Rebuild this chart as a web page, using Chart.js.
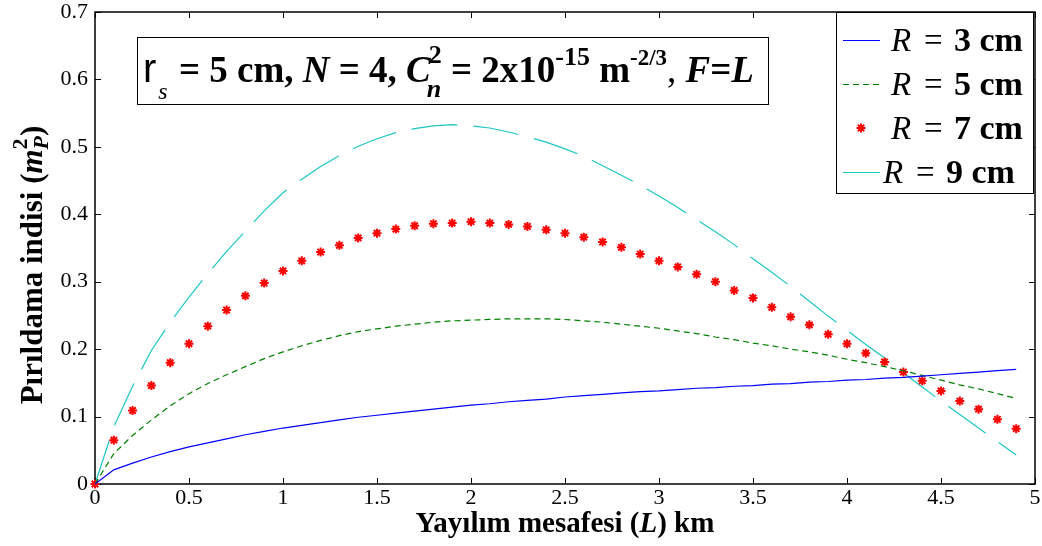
<!DOCTYPE html>
<html>
<head>
<meta charset="utf-8">
<script src="https://cdn.jsdelivr.net/npm/chart.js@4.4.1/dist/chart.umd.min.js"></script>
<style>
  html, body { margin: 0; padding: 0; background: #fff; }
  canvas { display: block; }
</style>
</head>
<body>
<canvas id="pirildama" width="1042" height="546"></canvas>
<script>
// Yayılım mesafesi (km)
const distanceKm = [
  0, 0.1, 0.2, 0.3, 0.4, 0.5, 0.6, 0.7, 0.8, 0.9,
  1.0, 1.1, 1.2, 1.3, 1.4, 1.5, 1.6, 1.7, 1.8, 1.9,
  2.0, 2.1, 2.2, 2.3, 2.4, 2.5, 2.6, 2.7, 2.8, 2.9,
  3.0, 3.1, 3.2, 3.3, 3.4, 3.5, 3.6, 3.7, 3.8, 3.9,
  4.0, 4.1, 4.2, 4.3, 4.4, 4.5, 4.6, 4.7, 4.8, 4.9
];

// Pırıldama indisi, R = 3 / 5 / 7 / 9 cm
const indexR3 = [
  0, 0.021, 0.031, 0.040, 0.048, 0.055, 0.061, 0.067, 0.073, 0.078,
  0.083, 0.087, 0.091, 0.095, 0.099, 0.102, 0.105, 0.108, 0.111, 0.114,
  0.117, 0.119, 0.122, 0.124, 0.126, 0.129, 0.131, 0.133, 0.135, 0.137,
  0.138, 0.140, 0.142, 0.143, 0.145, 0.146, 0.148, 0.149, 0.151, 0.152,
  0.154, 0.155, 0.157, 0.158, 0.160, 0.162, 0.164, 0.166, 0.168, 0.170
];
const indexR5 = [
  0, 0.045, 0.072, 0.095, 0.116, 0.134, 0.149, 0.162, 0.174, 0.186,
  0.196, 0.205, 0.213, 0.220, 0.226, 0.230, 0.234, 0.237, 0.240, 0.242,
  0.243, 0.244, 0.245, 0.245, 0.245, 0.244, 0.242, 0.240, 0.237, 0.234,
  0.231, 0.227, 0.223, 0.218, 0.214, 0.209, 0.205, 0.200, 0.196, 0.191,
  0.185, 0.180, 0.174, 0.168, 0.161, 0.154, 0.147, 0.141, 0.134, 0.127
];
const indexR7 = [
  0, 0.065, 0.109, 0.146, 0.180, 0.208, 0.234, 0.258, 0.279, 0.298,
  0.316, 0.331, 0.344, 0.354, 0.365, 0.372, 0.378, 0.383, 0.386, 0.387,
  0.389, 0.387, 0.385, 0.382, 0.377, 0.372, 0.366, 0.359, 0.351, 0.341,
  0.331, 0.322, 0.311, 0.300, 0.287, 0.276, 0.262, 0.248, 0.236, 0.222,
  0.208, 0.194, 0.181, 0.166, 0.153, 0.138, 0.123, 0.111, 0.096, 0.082
];
const indexR9 = [
  0, 0.085, 0.145, 0.198, 0.240, 0.277, 0.312, 0.345, 0.375, 0.405,
  0.432, 0.452, 0.471, 0.487, 0.501, 0.512, 0.521, 0.527, 0.531, 0.533,
  0.531, 0.528, 0.522, 0.515, 0.507, 0.497, 0.486, 0.472, 0.458, 0.443,
  0.427, 0.410, 0.392, 0.374, 0.355, 0.334, 0.314, 0.293, 0.271, 0.249,
  0.228, 0.207, 0.187, 0.165, 0.144, 0.123, 0.103, 0.083, 0.063, 0.043
];

const radiusCm = ['3', '5', '7', '9'];

const xTickValues = [0, 0.5, 1, 1.5, 2, 2.5, 3, 3.5, 4, 4.5, 5];
const xTickLabels = ['0', '0.5', '1', '1.5', '2', '2.5', '3', '3.5', '4', '4.5', '5'];
const yTickValues = [0, 0.1, 0.2, 0.3, 0.4, 0.5, 0.6, 0.7];
const yTickLabels = ['0', '0.1', '0.2', '0.3', '0.4', '0.5', '0.6', '0.7'];

const SERIF = "'Liberation Serif', 'Times New Roman', serif";

function points(ys) {
  return distanceKm.map((x, i) => ({ x: x, y: ys[i] }));
}

// yazı parçalarını (normal / üst / alt simge) sırayla çizer
function drawRuns(ctx, runs, x, y, measureOnly) {
  let cx = x;
  runs.forEach(r => {
    if (r.stack) {
      let w = 0;
      r.stack.forEach(s => {
        ctx.font = s.font;
        if (!measureOnly) ctx.fillText(s.t, cx + (s.dx || 0), y + (s.dy || 0));
        w = Math.max(w, ctx.measureText(s.t).width + (s.dx || 0));
      });
      cx += w + (r.gap || 0);
    } else {
      ctx.font = r.font;
      if (!measureOnly) ctx.fillText(r.t, cx + (r.dx || 0), y + (r.dy || 0));
      cx += ctx.measureText(r.t).width + (r.dx || 0) + (r.gap || 0);
    }
  });
  return cx - x;
}

const B = size => 'bold ' + size + 'px ' + SERIF;
const BI = size => 'italic bold ' + size + 'px ' + SERIF;
const I = size => 'italic ' + size + 'px ' + SERIF;
const N = size => size + 'px ' + SERIF;

const frameAndText = {
  id: 'frameAndText',
  beforeDatasetsDraw(chart) {
    const { ctx, chartArea: a, scales } = chart;
    ctx.save();
    ctx.strokeStyle = '#000';
    ctx.lineWidth = 1.5;
    ctx.strokeRect(a.left, a.top, a.right - a.left, a.bottom - a.top);
    ctx.lineWidth = 1;
    const tl = 6;
    ctx.beginPath();
    xTickValues.forEach(v => {
      const px = Math.round(scales.x.getPixelForValue(v)) + 0.5;
      ctx.moveTo(px, a.bottom); ctx.lineTo(px, a.bottom - tl);
      ctx.moveTo(px, a.top); ctx.lineTo(px, a.top + tl);
    });
    yTickValues.forEach(v => {
      const py = Math.round(scales.y.getPixelForValue(v)) + 0.5;
      ctx.moveTo(a.left, py); ctx.lineTo(a.left + tl, py);
      ctx.moveTo(a.right, py); ctx.lineTo(a.right - tl, py);
    });
    ctx.stroke();

    // tik etiketleri
    ctx.fillStyle = '#000';
    ctx.font = N(22);
    ctx.textAlign = 'center';
    ctx.textBaseline = 'top';
    xTickValues.forEach((v, i) => {
      ctx.fillText(xTickLabels[i], scales.x.getPixelForValue(v), a.bottom + 3);
    });
    ctx.textAlign = 'right';
    ctx.textBaseline = 'middle';
    yTickValues.forEach((v, i) => {
      ctx.fillText(yTickLabels[i], a.left - 7, scales.y.getPixelForValue(v));
    });
    ctx.restore();
  },
  afterDraw(chart) {
    const { ctx, chartArea: a } = chart;
    ctx.save();
    ctx.fillStyle = '#000';
    ctx.textBaseline = 'alphabetic';
    ctx.textAlign = 'left';

    // eksen başlıkları
    const xTitle = [
      { t: 'Yayılım mesafesi (', font: B(29) },
      { t: 'L', font: BI(29) },
      { t: ') km', font: B(29) }
    ];
    const xw = drawRuns(ctx, xTitle, 0, 0, true);
    drawRuns(ctx, xTitle, (a.left + a.right) / 2 - xw / 2, 532);

    const yTitle = [
      { t: 'Pırıldama indisi (', font: B(31) },
      { t: 'm', font: BI(31) },
      { stack: [
        { t: '2', font: B(22), dy: -15 },
        { t: 'P', font: BI(22), dy: 6 }
      ] },
      { t: ')', font: B(31) }
    ];
    const yw = drawRuns(ctx, yTitle, 0, 0, true);
    ctx.save();
    ctx.translate(31, 265);
    ctx.rotate(-Math.PI / 2);
    drawRuns(ctx, yTitle, -yw / 2, 11);
    ctx.restore();

    // parametre kutusu
    ctx.fillStyle = '#fff';
    ctx.fillRect(137, 37, 631, 67);
    ctx.strokeStyle = '#000';
    ctx.lineWidth = 1;
    ctx.strokeRect(137.5, 37.5, 631, 67);
    ctx.fillStyle = '#000';
    const note = [
      { t: 'r', font: '40px "Liberation Sans", Arial, sans-serif', gap: 2 },
      { t: 's', font: I(24), dy: 17, gap: 2 },
      { t: ' = 5 cm, ', font: B(37) },
      { t: 'N', font: BI(37) },
      { t: ' = 4, ', font: B(37) },
      { t: 'C', font: BI(37) },
      { stack: [
        { t: '2', font: B(26), dy: -19, dx: -2 },
        { t: 'n', font: BI(26), dy: 15, dx: -4 }
      ] },
      { t: ' = 2x10', font: B(37) },
      { t: '-15', font: B(26), dy: -17 },
      { t: ' m', font: B(37) },
      { t: '-2/3', font: B(23), dy: -17 },
      { t: ', ', font: N(37) },
      { t: 'F', font: BI(37) },
      { t: '=', font: B(37) },
      { t: 'L', font: BI(37) }
    ];
    drawRuns(ctx, note, 143, 82);

    // lejant
    const lx = 836, ly = 12, lw = 198, lh = 182;
    ctx.fillStyle = '#fff';
    ctx.fillRect(lx, ly, lw, lh);
    ctx.strokeStyle = '#000';
    ctx.lineWidth = 1;
    ctx.strokeRect(lx + 0.5, ly + 0.5, lw - 1, lh - 1);
    const rows = [40, 84, 128, 172];
    const shift = [0, 0, 0, -8];
    chart.data.datasets.forEach((ds, i) => {
      const cy = rows[i];
      ctx.save();
      ctx.strokeStyle = ds.borderColor;
      if (ds.showLine === false) {
        ctx.lineWidth = 2;
        const r = 4.5;
        ctx.beginPath();
        for (let k = 0; k < 4; k++) {
          const ang = k * Math.PI / 4;
          ctx.moveTo(861 - r * Math.cos(ang), cy - r * Math.sin(ang));
          ctx.lineTo(861 + r * Math.cos(ang), cy + r * Math.sin(ang));
        }
        ctx.stroke();
      } else {
        ctx.lineWidth = ds.borderWidth;
        ctx.setLineDash(ds.borderDash || []);
        ctx.beginPath();
        ctx.moveTo(843, cy + 0.5);
        ctx.lineTo(880, cy + 0.5);
        ctx.stroke();
      }
      ctx.restore();
      ctx.fillStyle = '#000';
      const tx = 891 + shift[i];
      const ty = cy + 11;
      ctx.font = I(33);
      ctx.fillText('R', tx, ty);
      ctx.font = N(33);
      ctx.fillText('=', tx + 33, ty);
      ctx.font = B(34);
      ctx.fillText(radiusCm[i] + ' cm', tx + 63, ty);
    });
    ctx.restore();
  }
};

new Chart(document.getElementById('pirildama'), {
  type: 'scatter',
  data: {
    datasets: [
      {
        label: 'R = ' + radiusCm[0] + ' cm',
        data: points(indexR3),
        showLine: true,
        borderColor: '#0000ff',
        borderWidth: 1.2,
        pointRadius: 0
      },
      {
        label: 'R = ' + radiusCm[1] + ' cm',
        data: points(indexR5),
        showLine: true,
        borderColor: '#008000',
        borderWidth: 1.2,
        borderDash: [6, 4],
        pointRadius: 0
      },
      {
        label: 'R = ' + radiusCm[2] + ' cm',
        data: points(indexR7),
        showLine: false,
        borderColor: '#ff0000',
        backgroundColor: '#ff0000',
        pointStyle: 'star',
        pointRadius: 4.5,
        pointBorderWidth: 2,
        clip: 10
      },
      {
        label: 'R = ' + radiusCm[3] + ' cm',
        data: points(indexR9),
        showLine: true,
        borderColor: '#1cc6c6',
        borderWidth: 1.2,
        borderDash: [46, 16],
        pointRadius: 0
      }
    ]
  },
  options: {
    responsive: false,
    animation: false,
    devicePixelRatio: 1,
    layout: { padding: { top: 12, right: 7, left: 0, bottom: 0 } },
    plugins: {
      legend: { display: false },
      tooltip: { enabled: false }
    },
    scales: {
      x: {
        type: 'linear',
        min: 0,
        max: 5,
        grid: { display: false, drawTicks: false },
        border: { display: false },
        ticks: { display: false },
        afterFit: s => { s.height = 62; }
      },
      y: {
        min: 0,
        max: 0.7,
        grid: { display: false, drawTicks: false },
        border: { display: false },
        ticks: { display: false },
        afterFit: s => { s.width = 95; }
      }
    }
  },
  plugins: [frameAndText]
});
</script>
</body>
</html>
